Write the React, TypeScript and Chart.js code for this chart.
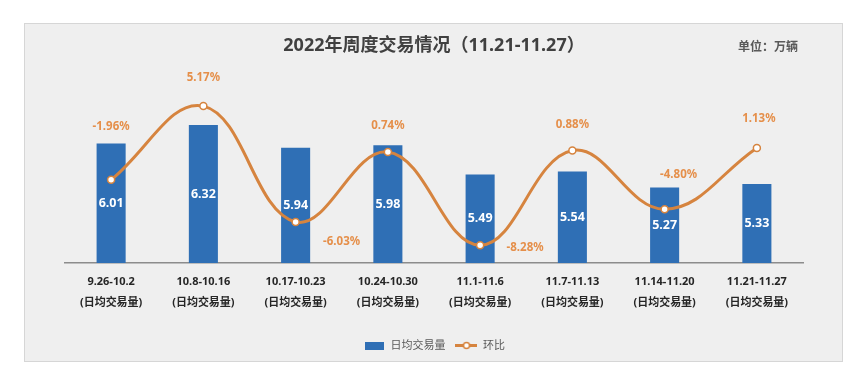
import React, { useEffect, useRef } from "react";
import { Chart, registerables } from "chart.js";

Chart.register(...registerables);

// ---- data ----
const weeks = [
  "9.26-10.2",
  "10.8-10.16",
  "10.17-10.23",
  "10.24-10.30",
  "11.1-11.6",
  "11.7-11.13",
  "11.14-11.20",
  "11.21-11.27",
];
const tickSuffix = "(日均交易量)";
const dailyVolume = [6.01, 6.32, 5.94, 5.98, 5.49, 5.54, 5.27, 5.33];
const weekOnWeek = [-1.96, 5.17, -6.03, 0.74, -8.28, 0.88, -4.8, 1.13];
const seriesNames = ["日均交易量", "环比"];
const titleText = "2022年周度交易情况（11.21-11.27）";
const unitText = "单位：万辆";

// ---- styles ----
const BAR_COLOR = "#2f6fb5";
const LINE_COLOR = "#d6843f";
const PCT_COLOR = "#e58f4a";
const FONT = "'Noto Sans', 'Noto Sans CJK SC', sans-serif";

// offsets of percentage labels relative to their points (px)
const pctLabelOffsets: [number, number][] = [
  [0, -53],
  [0, -28],
  [46, 20],
  [0, -26],
  [45, 3],
  [0, -26],
  [14, -35],
  [2, -29],
];

const labelPlugin = {
  id: "valueLabels",
  afterDatasetsDraw(chart: any) {
    const ctx = chart.ctx;
    ctx.save();
    ctx.textAlign = "center";
    ctx.textBaseline = "middle";
    const barMeta = chart.getDatasetMeta(0);
    ctx.font = `bold 12.5px ${FONT}`;
    ctx.fillStyle = "#ffffff";
    const bottom = chart.chartArea.bottom;
    barMeta.data.forEach((el: any, i: number) => {
      const p = el.getProps(["x", "y", "base"], true);
      const b = Math.min(p.base, bottom);
      ctx.fillText(dailyVolume[i].toFixed(2), p.x, (p.y + b) / 2);
    });
    const lineMeta = chart.getDatasetMeta(1);
    ctx.font = `bold 11.5px ${FONT}`;
    ctx.fillStyle = PCT_COLOR;
    lineMeta.data.forEach((el: any, i: number) => {
      const p = el.getProps(["x", "y"], true);
      const [dx, dy] = pctLabelOffsets[i];
      ctx.fillText(weekOnWeek[i].toFixed(2) + "%", p.x + dx, p.y + dy);
    });
    ctx.restore();
  },
};

function makeBarSwatch() {
  const c = document.createElement("canvas");
  c.width = 19;
  c.height = 8;
  const g = c.getContext("2d")!;
  g.fillStyle = BAR_COLOR;
  g.fillRect(0, 0, 19, 8);
  return c;
}

function makeLineSwatch() {
  const c = document.createElement("canvas");
  c.width = 22;
  c.height = 9;
  const g = c.getContext("2d")!;
  g.strokeStyle = LINE_COLOR;
  g.lineWidth = 3;
  g.beginPath();
  g.moveTo(0, 4.5);
  g.lineTo(22, 4.5);
  g.stroke();
  g.beginPath();
  g.arc(11, 4.5, 3, 0, Math.PI * 2);
  g.fillStyle = "#ffffff";
  g.fill();
  g.lineWidth = 1.5;
  g.stroke();
  return c;
}

export default function App() {
  const canvasRef = useRef<HTMLCanvasElement | null>(null);

  useEffect(() => {
    document.body.style.margin = "0";
    const canvas = canvasRef.current;
    if (!canvas) return;
    const swatches = [makeBarSwatch(), makeLineSwatch()];
    const chart = new Chart(canvas, {
      data: {
        labels: weeks.map((w) => [w, tickSuffix]),
        datasets: [
          {
            type: "bar",
            label: seriesNames[0],
            data: dailyVolume,
            backgroundColor: BAR_COLOR,
            yAxisID: "y",
            order: 1,
            categoryPercentage: 1,
            barPercentage: 0.315,
          },
          {
            type: "line",
            label: seriesNames[1],
            data: weekOnWeek,
            borderColor: LINE_COLOR,
            borderWidth: 3,
            tension: 0.4,
            pointRadius: 3.5,
            pointBorderWidth: 1.5,
            pointBackgroundColor: "#ffffff",
            pointBorderColor: LINE_COLOR,
            yAxisID: "y2",
            order: 0,
          },
        ],
      } as any,
      options: {
        animation: false,
        responsive: false,
        layout: { padding: { left: 40, right: 39, top: 0, bottom: 0 } },
        plugins: {
          title: {
            display: true,
            text: titleText,
            color: "#404040",
            font: { family: FONT, size: 18, weight: "bold" },
            padding: { top: 11, bottom: 28 },
          },
          legend: {
            position: "bottom",
            labels: {
              usePointStyle: true,
              pointStyleWidth: 22,
              boxHeight: 8,
              padding: 10,
              color: "#595959",
              font: { family: FONT, size: 11 },
              sort: (a: any, b: any) => a.datasetIndex - b.datasetIndex,
              generateLabels(ch: any) {
                const items = Chart.defaults.plugins.legend.labels.generateLabels(ch);
                items.forEach((it: any) => {
                  it.pointStyle = swatches[it.datasetIndex];
                });
                return items;
              },
            },
          },
          tooltip: { enabled: false },
        },
        scales: {
          x: {
            grid: { display: false, drawTicks: false },
            border: { display: true, color: "#8c8c8c", width: 1.5 },
            ticks: {
              color: "#262626",
              padding: 8,
              maxRotation: 0,
              autoSkip: false,
              font: { family: FONT, size: 11, weight: "bold", lineHeight: "21px" },
            },
            afterFit(scale: any) {
              scale.height = 67;
            },
          },
          y: { display: false, min: 4, max: 7 },
          y2: { display: false, min: -10, max: 7.25, position: "right" },
        },
      } as any,
      plugins: [labelPlugin],
    });
    return () => chart.destroy();
  }, []);

  return (
    <div style={{ position: "relative", width: 867, height: 373, background: "#ffffff" }}>
      <div
        style={{
          position: "absolute",
          left: 24,
          top: 23,
          width: 817,
          height: 337,
          border: "1px solid #d6d6d6",
          background: "#efefef",
        }}
      >
        <canvas ref={canvasRef} width={817} height={337} style={{ display: "block" }} />
        <span
          style={{
            position: "absolute",
            left: 713,
            top: 14,
            fontSize: 12,
            lineHeight: "16px",
            fontWeight: "bold",
            color: "#595959",
            fontFamily: "'Noto Sans CJK SC', sans-serif",
            whiteSpace: "nowrap",
          }}
        >
          {unitText}
        </span>
      </div>
    </div>
  );
}
